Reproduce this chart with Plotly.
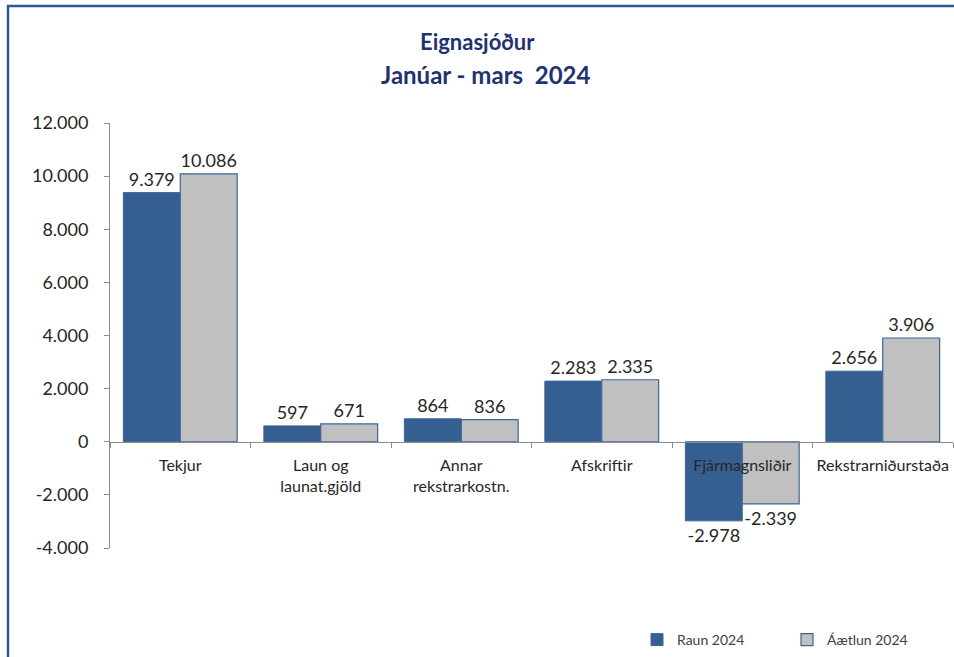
import plotly.graph_objects as go

categories = ["Tekjur", "Laun og<br>launat.gjöld", "Annar<br>rekstrarkostn.", "Afskriftir",
              "Fjármagnsliðir", "Rekstrarniðurstaða"]
raun_2024 = [9379, 597, 864, 2283, -2978, 2656]
aaetlun_2024 = [10086, 671, 836, 2335, -2339, 3906]
y_ticks = [-4000, -2000, 0, 2000, 4000, 6000, 8000, 10000, 12000]


def fmt(v):
    s = f"{abs(v):,}".replace(",", ".")
    return ("-" if v < 0 else "") + s


W, H = 954, 657
ML, MR, MT, MB = 110, 1, 123, 109
PW, PH = W - ML - MR, H - MT - MB


def px_x(p):
    return (p - ML) / PW


def px_y(p):
    return (H - MB - p) / PH


FONT = "Lato"
TXT = "#262626"
BLUE = "#365F91"
GRAY = "#C0C0C0"
EDGE = "#3F6499"
AXIS = "#8C8C8C"

fig = go.Figure()
fig.add_trace(go.Bar(
    name="Raun 2024", x=categories, y=raun_2024,
    marker=dict(color=BLUE, line=dict(color=EDGE, width=1)),
    text=[fmt(v) for v in raun_2024], textposition="outside",
    textfont=dict(family=FONT, size=18, color=TXT),
    constraintext="none", cliponaxis=False,
))
fig.add_trace(go.Bar(
    name="Áætlun 2024", x=categories, y=aaetlun_2024,
    marker=dict(color=GRAY, line=dict(color=EDGE, width=1.2)),
    text=[fmt(v) for v in aaetlun_2024], textposition="outside",
    textfont=dict(family=FONT, size=18, color=TXT),
    constraintext="none", cliponaxis=False,
))

fig.update_layout(
    width=W, height=H,
    margin=dict(l=ML, r=MR, t=MT, b=MB, autoexpand=False),
    paper_bgcolor="white", plot_bgcolor="white",
    barmode="group", bargap=0.19, bargroupgap=0,
    font=dict(family=FONT, color=TXT),
    showlegend=True,
    legend=dict(orientation="h", x=px_x(637), y=px_y(640), xanchor="left", yanchor="middle",
                font=dict(family=FONT, size=14, color="#404040"),
                entrywidth=105, entrywidthmode="pixels", bgcolor="rgba(0,0,0,0)",
                itemwidth=30),
    xaxis=dict(
        type="category", anchor="free", position=4000 / 16000,
        showline=True, linecolor=AXIS, linewidth=1,
        ticks="outside", tickson="boundaries", ticklen=5, tickcolor=AXIS,
        ticklabelstandoff=9, tickangle=0,
        tickfont=dict(family=FONT, size=16, color=TXT),
        showgrid=False, zeroline=False, automargin=False,
    ),
    yaxis=dict(
        range=[-4000, 12000], domain=[0, 1],
        tickvals=y_ticks, ticktext=[fmt(v) for v in y_ticks],
        showline=True, linecolor=AXIS, linewidth=1,
        ticks="outside", ticklen=5, tickcolor=AXIS,
        ticklabelstandoff=12,
        tickfont=dict(family=FONT, size=18, color=TXT),
        showgrid=False, zeroline=False, automargin=False,
    ),
)

TITLE_C = "#1F3271"
fig.add_annotation(text="<b>Eignasjóður</b>", xref="paper", yref="paper",
                   x=px_x(477), y=px_y(42), showarrow=False, xanchor="center", yanchor="middle",
                   font=dict(family=FONT, size=22, color=TITLE_C))
fig.add_annotation(text="<b>Janúar - mars\u00a0 2024</b>", xref="paper", yref="paper",
                   x=px_x(486), y=px_y(75), showarrow=False, xanchor="center", yanchor="middle",
                   font=dict(family=FONT, size=24, color=TITLE_C))

BORDER = "#2F5597"
fig.add_shape(type="line", xref="paper", yref="paper",
              x0=px_x(8), x1=px_x(8), y0=px_y(5), y1=px_y(665),
              line=dict(color=BORDER, width=2.5))
fig.add_shape(type="line", xref="paper", yref="paper",
              x0=px_x(7), x1=px_x(965), y0=px_y(6), y1=px_y(6),
              line=dict(color=BORDER, width=2.5))

fig.write_html("out.html", config={"displayModeBar": False},
               post_script="document.body.style.margin='0';document.body.style.overflow='hidden';")
